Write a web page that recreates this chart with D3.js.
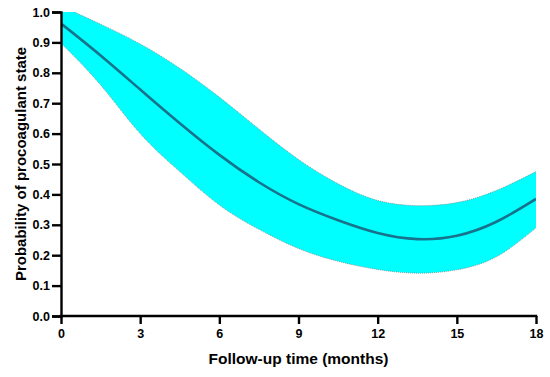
<!DOCTYPE html>
<html>
<head>
<meta charset="utf-8">
<script src="https://cdn.jsdelivr.net/npm/d3@7"></script>
<style>
  body { margin: 0; background: #fff; }
  text { font-family: "Liberation Sans", Arial, sans-serif; font-weight: bold; }
</style>
</head>
<body>
<svg id="chart"></svg>
<script>
// values
const months = [0, 1.5, 3, 4.5, 6, 7.5, 9, 10.5, 12, 13.5, 15, 16.5, 18];
const centre = [0.962, 0.857, 0.745, 0.634, 0.53, 0.44, 0.368, 0.315, 0.273, 0.253, 0.264, 0.31, 0.385];
const upper  = [1.02, 0.96, 0.895, 0.815, 0.72, 0.615, 0.515, 0.435, 0.38, 0.363, 0.373, 0.413, 0.475];
const lower  = [0.897, 0.76, 0.60, 0.475, 0.365, 0.285, 0.222, 0.18, 0.153, 0.141, 0.152, 0.195, 0.29];
const xTicks = [0, 3, 6, 9, 12, 15, 18];
const yTicks = [0, 0.1, 0.2, 0.3, 0.4, 0.5, 0.6, 0.7, 0.8, 0.9, 1.0];

const width = 550;
const height = 377;
const margin = { top: 12, right: 14, bottom: 61, left: 61 };

const svg = d3.select('#chart')
    .attr('width', width)
    .attr('height', height);

const x = d3.scaleLinear().domain([0, 18]).range([margin.left, width - margin.right]);
const y = d3.scaleLinear().domain([0, 1]).range([height - margin.bottom, margin.top]);

const pts = months.map((m, i) => ({ m: m, c: centre[i], u: upper[i], l: lower[i] }));

svg.append('clipPath')
    .attr('id', 'plot')
    .append('rect')
    .attr('x', x(0))
    .attr('y', y(1))
    .attr('width', x(18) - x(0))
    .attr('height', y(0) - y(1));

const g = svg.append('g').attr('clip-path', 'url(#plot)');

const curve = d3.curveNatural;

// confidence band
g.append('path')
    .datum(pts)
    .attr('fill', '#00ffff')
    .attr('d', d3.area().curve(curve).x(d => x(d.m)).y0(d => y(d.l)).y1(d => y(d.u)));

// dotted edges of the band
['u', 'l'].forEach(k => {
    g.append('path')
        .datum(pts)
        .attr('fill', 'none')
        .attr('stroke', '#7a8a8a')
        .attr('stroke-width', 0.8)
        .attr('stroke-dasharray', '1,1')
        .attr('d', d3.line().curve(curve).x(d => x(d.m)).y(d => y(d[k])));
});

// fitted line
g.append('path')
    .datum(pts)
    .attr('fill', 'none')
    .attr('stroke', '#17738c')
    .attr('stroke-width', 2.6)
    .attr('d', d3.line().curve(curve).x(d => x(d.m)).y(d => y(d.c)));

// axes
const xAxis = d3.axisBottom(x).tickValues(xTicks).tickFormat(d3.format('d')).tickSizeOuter(0).tickSize(8).tickPadding(5);
const yAxis = d3.axisLeft(y).tickValues(yTicks).tickFormat(d3.format('.1f')).tickSizeOuter(0).tickSize(9).tickPadding(2);

const gx = svg.append('g')
    .attr('transform', 'translate(0,' + y(0) + ')')
    .call(xAxis);
const gy = svg.append('g')
    .attr('transform', 'translate(' + x(0) + ',0)')
    .call(yAxis);

[gx, gy].forEach(a => {
    a.select('.domain').attr('stroke', '#000').attr('stroke-width', 2.4);
    a.selectAll('.tick line').attr('stroke', '#000').attr('stroke-width', 2.4);
    a.selectAll('.tick text').attr('fill', '#000').style('font-size', '12.5px').style('font-weight', 'bold');
});
gx.select('.domain').attr('d', 'M' + (x(0) - 1.2) + ',0H' + (x(18) + 1.2));

svg.append('text')
    .attr('x', (x(0) + x(18)) / 2)
    .attr('y', 364)
    .attr('text-anchor', 'middle')
    .style('font-size', '15.5px')
    .text('Follow-up time (months)');

svg.append('text')
    .attr('transform', 'translate(26,' + (y(0) + y(1)) / 2 + ') rotate(-90)')
    .attr('text-anchor', 'middle')
    .style('font-size', '15px')
    .text('Probability of procoagulant state');
</script>
</body>
</html>
